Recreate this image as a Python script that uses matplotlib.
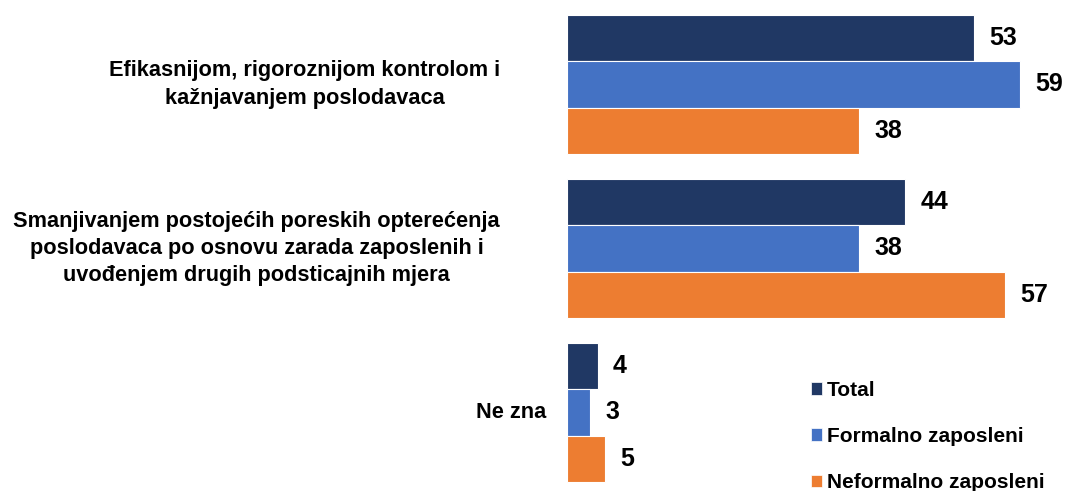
import numpy as np
import matplotlib
matplotlib.use("Agg")
import matplotlib.pyplot as plt
from matplotlib.patches import Patch

plt.rcParams['font.family'] = ['Liberation Sans', 'DejaVu Sans']

categories = ["Efikasnijom, rigoroznijom kontrolom i\nkažnjavanjem poslodavaca",
              "Smanjivanjem postojećih poreskih opterećenja\nposlodavaca po osnovu zarada zaposlenih i\nuvođenjem drugih podsticajnih mjera",
              "Ne zna"]
series = ["Total", "Formalno zaposleni", "Neformalno zaposleni"]
total = [53, 44, 4]
formalno = [59, 38, 3]
neformalno = [38, 57, 5]
colors = ["#203864", "#4472C4", "#ED7D31"]

fig = plt.figure(figsize=(10.74, 4.91), dpi=100)
ax = fig.add_axes([567 / 1074, 0, 507 / 1074, 1])

y = np.arange(len(categories))
h = 0.2835
for i, (vals, col) in enumerate(zip([total, formalno, neformalno], colors)):
    bars = ax.barh(y + (i - 1) * h, vals, height=h, color=col,
                   edgecolor="white", linewidth=0.8)
    for b, v in zip(bars, vals):
        ax.annotate(str(v), (b.get_width(), b.get_y() + b.get_height() / 2),
                    xytext=(11, 0), textcoords="offset points",
                    ha="left", va="center", fontsize=18, fontweight="bold")

ax.set_xlim(0, 66)
ax.set_ylim(2.479, -0.515)
ax.axis("off")

# category labels, right of them the axis
label_x = [-0.132, -0.132, -0.041]
for lx, yy, txt in zip(label_x, y, categories):
    ax.text(lx, yy, txt, transform=ax.get_yaxis_transform(),
            ha="right", va="center", multialignment="center",
            fontsize=15.7, fontweight="bold", linespacing=1.4)

handles = [Patch(facecolor=c, edgecolor="white", linewidth=0.5) for c in colors]
fig.legend(handles, series, loc="upper left",
           bbox_to_anchor=(811 / 1074, 1 - 381 / 491), frameon=False,
           prop={"size": 15, "weight": "bold"}, borderpad=0, borderaxespad=0,
           handlelength=0.55, handleheight=0.55, handletextpad=0.2,
           labelspacing=1.3)

fig.savefig("out.png", dpi=100)
